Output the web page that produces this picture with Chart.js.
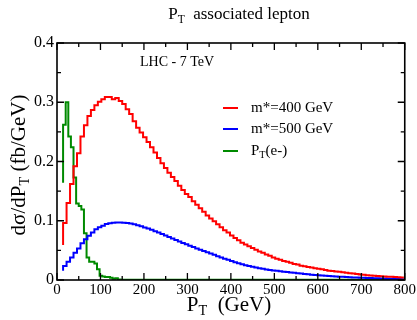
<!DOCTYPE html>
<html>
<head>
<meta charset="utf-8">
<script src="https://cdn.jsdelivr.net/npm/chart.js@4.4.1/dist/chart.umd.min.js"></script>
<style>
  html, body { margin: 0; padding: 0; background: #fff; }
</style>
</head>
<body>
<canvas id="grafico" width="417" height="320"></canvas>
<script>
// Histogramas: bins de 8 GeV desde 14 GeV (m* = 400 y 500 GeV)
const binInicio = 14;
const binAncho = 8;

const rojoInicio = 0.059;
const rojo400 = [
  0.096, 0.130, 0.162, 0.192, 0.214, 0.242, 0.261, 0.277, 0.287, 0.295,
  0.301, 0.305, 0.309, 0.309, 0.305, 0.307, 0.302,
  0.297, 0.288, 0.280, 0.268, 0.257, 0.249, 0.241, 0.233, 0.224, 0.215,
  0.206, 0.197, 0.189, 0.181, 0.174, 0.167, 0.159, 0.152, 0.145, 0.140,
  0.133, 0.127, 0.121, 0.115, 0.109, 0.104, 0.099, 0.094, 0.089, 0.084,
  0.080, 0.075, 0.071, 0.067, 0.063, 0.060, 0.057, 0.054, 0.051, 0.048,
  0.046, 0.043, 0.041, 0.038, 0.036, 0.034, 0.032, 0.031, 0.029, 0.027,
  0.026, 0.024, 0.023, 0.022, 0.021, 0.020, 0.019, 0.018, 0.0168, 0.0158,
  0.0150, 0.0145, 0.0138, 0.0130, 0.0122, 0.0115, 0.0108, 0.0101, 0.0094, 0.0088,
  0.0081, 0.0076, 0.0071, 0.0067, 0.0063, 0.0059, 0.0056, 0.0053, 0.0050, 0.0047,
  0.0044
];

const azulInicio = 0.0157;
const azul500 = [
  0.0236, 0.031, 0.038, 0.046, 0.053, 0.062, 0.0686, 0.0747, 0.080, 0.0855,
  0.089, 0.0916, 0.0944, 0.0956, 0.0966, 0.0970, 0.0972,
  0.0968, 0.0962, 0.0952, 0.0940, 0.0925, 0.0908, 0.0888, 0.0868, 0.0846, 0.0823,
  0.0800, 0.0775, 0.0750, 0.0725, 0.0700, 0.0675, 0.0650, 0.0626, 0.0602, 0.0578,
  0.0555, 0.0532, 0.0510, 0.0488, 0.0467, 0.0446, 0.0425, 0.0402, 0.0380, 0.0360,
  0.0340, 0.0320, 0.0300, 0.0283, 0.0265, 0.0250, 0.0236, 0.0223, 0.0210, 0.0198,
  0.0188, 0.0178, 0.0170, 0.0162, 0.0155, 0.0148, 0.0141, 0.0134, 0.0128, 0.0122,
  0.0115, 0.0108, 0.0102, 0.0096, 0.0090, 0.0085, 0.0080, 0.0075, 0.0071, 0.0067,
  0.0063, 0.0059, 0.0056, 0.0053, 0.0050, 0.0047, 0.0044, 0.0041, 0.0038, 0.0036,
  0.0034, 0.0032, 0.0030, 0.0028, 0.0026, 0.0024, 0.0022, 0.0020, 0.0018, 0.0016,
  0.0014
];

// PT(e-): bins de 6 GeV, luego cola plana hasta 800
const verdeX = [14, 20, 26, 32, 38, 44, 50, 56, 62, 68, 74, 80, 86, 92, 98, 104, 110, 116, 122, 128, 134, 140, 146, 152, 800];
const verdeY = [0.164, 0.262, 0.300, 0.242, 0.224, 0.173, 0.129, 0.125, 0.119, 0.079, 0.038, 0.031, 0.031, 0.028, 0.018, 0.007, 0.006, 0.005, 0.005, 0.004, 0.002, 0.003, 0.001, 0.0005, 0.0003];

const etiquetas = ['m*=400 GeV', 'm*=500 GeV', 'PT(e-)'];
const colores = ['#ff0000', '#0000ff', '#008a00'];

const ticksX = [0, 100, 200, 300, 400, 500, 600, 700, 800];
const ticksY = [0, 0.1, 0.2, 0.3, 0.4];

const fuente = '"Liberation Serif", "Times New Roman", serif';

function histo(inicio, valores) {
    const pts = [{ x: binInicio, y: inicio }];
    valores.forEach((v, i) => pts.push({ x: binInicio + binAncho * (i + 1), y: v }));
    return pts;
}

// Texto con subindices: partes = [[texto, esSub], ...]
function textoSub(ctx, partes, x, y, tam, centrado) {
    let ancho = 0;
    partes.forEach(([t, sub]) => {
        ctx.font = (sub ? tam * 0.68 : tam) + 'px ' + fuente;
        ancho += ctx.measureText(t).width;
    });
    let cx = centrado ? x - ancho / 2 : x;
    ctx.textAlign = 'left';
    ctx.textBaseline = 'middle';
    partes.forEach(([t, sub]) => {
        ctx.font = (sub ? tam * 0.68 : tam) + 'px ' + fuente;
        ctx.fillText(t, cx, sub ? y + tam * 0.32 : y);
        cx += ctx.measureText(t).width;
    });
}

const decoracion = {
    id: 'decoracion',
    afterDraw(chart) {
        const ctx = chart.ctx;
        const a = chart.chartArea;
        const sx = chart.scales.x, sy = chart.scales.y;
        ctx.save();
        ctx.fillStyle = '#000';
        ctx.strokeStyle = '#000';

        // marco
        ctx.lineWidth = 1.6;
        ctx.strokeRect(a.left, a.top, a.right - a.left, a.bottom - a.top);

        // marcas hacia dentro
        ctx.lineWidth = 1.3;
        ctx.beginPath();
        for (let v = 0; v <= 800; v += 50) {
            const px = sx.getPixelForValue(v);
            const l = v % 100 === 0 ? 7 : 4;
            ctx.moveTo(px, a.bottom); ctx.lineTo(px, a.bottom - l);
            ctx.moveTo(px, a.top); ctx.lineTo(px, a.top + l);
        }
        for (let i = 0; i <= 8; i++) {
            const py = sy.getPixelForValue(i * 0.05);
            const l = i % 2 === 0 ? 7 : 4;
            ctx.moveTo(a.left, py); ctx.lineTo(a.left + l, py);
            ctx.moveTo(a.right, py); ctx.lineTo(a.right - l, py);
        }
        ctx.stroke();

        // titulo
        textoSub(ctx, [['P', false], ['T', true], ['  associated lepton', false]], 239, 15, 17, true);

        // etiquetas de ejes
        textoSub(ctx, [['P', false], ['T', true], ['  (GeV)', false]], 229, 305, 21, true);
        ctx.save();
        ctx.translate(19, 165);
        ctx.rotate(-Math.PI / 2);
        textoSub(ctx, [['dσ/dP', false], ['T', true], [' (fb/GeV)', false]], 0, 0, 21, true);
        ctx.restore();

        // anotacion
        ctx.font = '14px ' + fuente;
        ctx.textAlign = 'left';
        ctx.textBaseline = 'middle';
        ctx.fillText('LHC - 7 TeV', 140, 62);

        // leyenda
        const ys = [108, 129, 151];
        ctx.lineWidth = 2;
        etiquetas.forEach((et, i) => {
            ctx.strokeStyle = colores[i];
            ctx.beginPath();
            ctx.moveTo(223, ys[i]); ctx.lineTo(238, ys[i]);
            ctx.stroke();
            if (i === 2) {
                textoSub(ctx, [['P', false], ['T', true], ['(e-)', false]], 251, ys[i], 15, false);
            } else {
                ctx.font = '15px ' + fuente;
                ctx.fillText(et, 251, ys[i]);
            }
        });
        ctx.restore();
    }
};

const ctx = document.getElementById('grafico').getContext('2d');
new Chart(ctx, {
    type: 'line',
    data: {
        datasets: [
            { label: etiquetas[0], data: histo(rojoInicio, rojo400), borderColor: colores[0] },
            { label: etiquetas[1], data: histo(azulInicio, azul500), borderColor: colores[1] },
            { label: etiquetas[2], data: verdeX.map((x, i) => ({ x: x, y: verdeY[i] })), borderColor: colores[2] }
        ].map(d => Object.assign(d, { stepped: 'after', borderWidth: 2, pointRadius: 0, fill: false }))
    },
    options: {
        responsive: false,
        animation: false,
        layout: { padding: { top: 43, right: 12, left: 0, bottom: 0 } },
        plugins: {
            legend: { display: false },
            tooltip: { enabled: false }
        },
        scales: {
            x: {
                type: 'linear', min: 0, max: 800,
                grid: { display: false, drawTicks: false },
                border: { display: false },
                afterBuildTicks: s => { s.ticks = ticksX.map(v => ({ value: v })); },
                ticks: { color: '#000', font: { family: fuente, size: 15 }, padding: 1, maxRotation: 0, autoSkip: false },
                afterFit: s => { s.height = 40; }
            },
            y: {
                min: 0, max: 0.4,
                grid: { display: false, drawTicks: false },
                border: { display: false },
                afterBuildTicks: s => { s.ticks = ticksY.map(v => ({ value: v })); },
                ticks: {
                    color: '#000', font: { family: fuente, size: 16 }, padding: 3,
                    callback: v => v === 0 ? '0' : v.toFixed(1)
                },
                afterFit: s => { s.width = 57; }
            }
        }
    },
    plugins: [decoracion]
});
</script>
</body>
</html>
